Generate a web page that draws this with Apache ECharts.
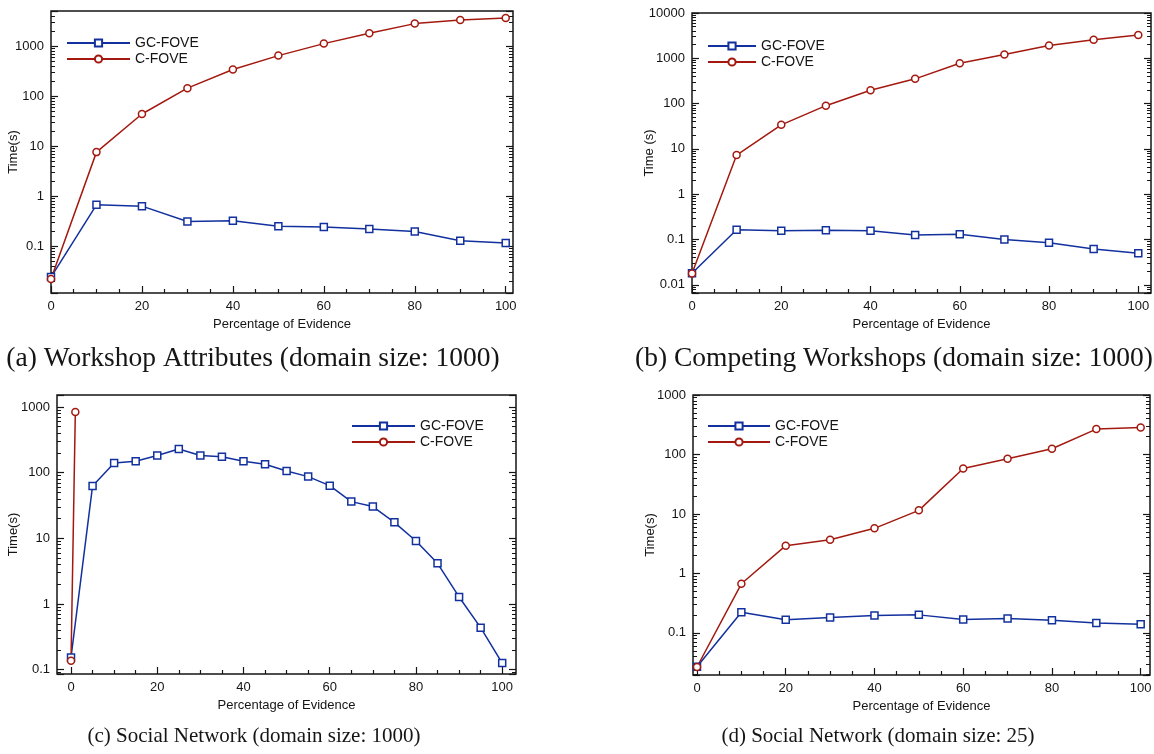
<!DOCTYPE html>
<html>
<head>
<meta charset="utf-8">
<script src="https://cdn.jsdelivr.net/npm/echarts@6/dist/echarts.min.js"></script>
<style>
  html, body { margin: 0; background: #fff; }
  #main { width: 1154px; height: 754px; }
</style>
</head>
<body>
<div id="main"></div>
<script>
// evidence percentages
const xTen = [0, 10, 20, 30, 40, 50, 60, 70, 80, 90, 100]
const xFive = [0, 5, 10, 15, 20, 25, 30, 35, 40, 45, 50, 55, 60, 65, 70, 75, 80, 85, 90, 95, 100]
const xCFoveSocial = [0, 1]
const xLabels = [0, 20, 40, 60, 80, 100]
const xMinorTicks = [5, 10, 15, 25, 30, 35, 45, 50, 55, 65, 70, 75, 85, 90, 95]

// (a) Workshop Attributes
const aGC = [0.024, 0.67, 0.63, 0.31, 0.32, 0.25, 0.24, 0.22, 0.196, 0.128, 0.115]
const aC = [0.022, 7.6, 44, 145, 342, 650, 1130, 1820, 2840, 3360, 3680]
// (b) Competing Workshops
const bGC = [0.018, 0.165, 0.157, 0.16, 0.157, 0.126, 0.13, 0.1, 0.085, 0.062, 0.05]
const bC = [0.0178, 7.3, 34, 90, 197, 352, 780, 1215, 1920, 2570, 3260]
// (c) Social Network, domain 1000
const cGC = [0.154, 62.7, 140, 149, 182, 229, 182, 175, 149, 134, 106, 87, 63.4, 36.2, 30.4, 17.5, 9.1, 4.16, 1.28, 0.436, 0.126]
const cC = [0.137, 840]
// (d) Social Network, domain 25
const dGC = [0.027, 0.223, 0.166, 0.181, 0.196, 0.201, 0.168, 0.174, 0.163, 0.147, 0.14]
const dC = [0.0267, 0.67, 2.93, 3.69, 5.73, 11.5, 58, 84.5, 125, 267, 285]

const captions = [
  '(a) Workshop Attributes (domain size: 1000)',
  '(b) Competing Workshops (domain size: 1000)',
  '(c) Social Network (domain size: 1000)',
  '(d) Social Network (domain size: 25)',
]

const BLUE = '#12309e'
const RED = '#a3190f'
const INK = '#151515'
const SANS = 'Liberation Sans'

const panels = [
  { grid: { left: 51, top: 11, width: 462, height: 282 }, xMin: 0, xMax: 101.6, yMin: 0.0115, yMax: 5080,
    yName: 'Time(s)', yGap: 31, legend: { left: 61, top: 31, itemWidth: 63 }, cap: [253, 359, 27.5],
    lines: [['GC-FOVE', xTen, aGC], ['C-FOVE', xTen, aC]] },
  { grid: { left: 692, top: 13, width: 459, height: 280 }, xMin: 0, xMax: 102.85, yMin: 0.0066, yMax: 10000,
    yName: 'Time (s)', yGap: 36, legend: { left: 702, top: 34, itemWidth: 48 }, cap: [894, 359, 27.5],
    lines: [['GC-FOVE', xTen, bGC], ['C-FOVE', xTen, bC]] },
  { grid: { left: 57, top: 395, width: 459, height: 279 }, xMin: -3.25, xMax: 103.2, yMin: 0.086, yMax: 1520,
    yName: 'Time(s)', yGap: 37, legend: { left: 346, top: 414, itemWidth: 63 }, cap: [254, 736, 21],
    lines: [['GC-FOVE', xFive, cGC], ['C-FOVE', xCFoveSocial, cC]] },
  { grid: { left: 693, top: 395, width: 457, height: 280 }, xMin: -0.9, xMax: 102.1, yMin: 0.0196, yMax: 1000,
    yName: 'Time(s)', yGap: 36, legend: { left: 702, top: 414, itemWidth: 62 }, cap: [878, 736, 21],
    lines: [['GC-FOVE', xTen, dGC], ['C-FOVE', xTen, dC]] },
]

// minor log ticks (2..9 per decade), in log10 space
function minorLogTicks(lo, hi) {
  const out = []
  for (let k = Math.floor(Math.log10(lo)); k <= Math.ceil(Math.log10(hi)); k++) {
    for (let m = 2; m <= 9; m++) {
      const v = m * Math.pow(10, k)
      if (v > lo && v < hi) out.push(Math.log10(v))
    }
  }
  return out
}

function decadeLabel(v) {
  const e = Math.log10(v)
  return Math.abs(e - Math.round(e)) < 1e-6 ? String(+Math.pow(10, Math.round(e)).toPrecision(3)) : ''
}

const labelFont = { fontFamily: SANS, fontSize: 13, color: INK }

const option = {
  animation: false,
  backgroundColor: '#fff',
  grid: [], xAxis: [], yAxis: [], series: [], legend: [], graphic: [],
}

panels.forEach((p, i) => {
  option.grid.push({ ...p.grid, show: true, borderColor: INK, borderWidth: 1.5,
    backgroundColor: 'transparent', outerBoundsMode: 'none' })

  const xi = option.xAxis.length
  option.xAxis.push({
    gridIndex: i, type: 'value', position: 'bottom', min: p.xMin, max: p.xMax,
    name: 'Percentage of Evidence', nameLocation: 'middle', nameGap: 25, nameMoveOverlap: false,
    nameTextStyle: { ...labelFont },
    axisLine: { show: false, onZero: false }, splitLine: { show: false },
    axisTick: { inside: true, length: 7, customValues: xLabels, lineStyle: { color: INK, width: 1.2 } },
    axisLabel: { customValues: xLabels, margin: 7, ...labelFont },
  })
  option.xAxis.push({
    gridIndex: i, type: 'value', position: 'bottom', min: p.xMin, max: p.xMax,
    axisLine: { show: false, onZero: false }, splitLine: { show: false }, axisLabel: { show: false },
    axisTick: { inside: true, length: 4, customValues: xMinorTicks, lineStyle: { color: INK, width: 1.2 } },
  })

  const yi = option.yAxis.length
  ;['left', 'right'].forEach(pos => {
    option.yAxis.push({
      gridIndex: i, type: 'log', logBase: 10, position: pos, min: p.yMin, max: p.yMax,
      name: pos === 'left' ? p.yName : '', nameLocation: 'middle', nameGap: p.yGap, nameMoveOverlap: false,
      nameTextStyle: { ...labelFont },
      axisLine: { show: false, onZero: false }, splitLine: { show: false },
      axisTick: { inside: true, length: 7, lineStyle: { color: INK, width: 1.2 } },
      axisLabel: { show: pos === 'left', formatter: decadeLabel, margin: 7, ...labelFont },
    })
  })
  const minors = minorLogTicks(p.yMin, p.yMax)
  ;['left', 'right'].forEach(pos => {
    option.yAxis.push({
      gridIndex: i, type: 'value', position: pos,
      min: Math.log10(p.yMin), max: Math.log10(p.yMax),
      axisLine: { show: false, onZero: false }, splitLine: { show: false }, axisLabel: { show: false },
      axisTick: { inside: true, length: 4, customValues: minors, lineStyle: { color: INK, width: 1 } },
    })
  })

  p.lines.forEach(([name, xs, ys]) => {
    const col = name === 'GC-FOVE' ? BLUE : RED
    option.series.push({
      type: 'line', name, xAxisIndex: xi, yAxisIndex: yi,
      data: xs.map((x, k) => [x, ys[k]]),
      symbol: name === 'GC-FOVE' ? 'rect' : 'circle',
      symbolSize: 7, showAllSymbol: true,
      lineStyle: { color: col, width: 1.5 },
      itemStyle: { color: '#fff', borderColor: col, borderWidth: 1.5 },
      emphasis: { disabled: true },
    })
  })

  option.legend.push({
    left: p.legend.left, top: p.legend.top, orient: 'vertical',
    itemWidth: p.legend.itemWidth, itemHeight: 9, itemGap: 2,
    selectedMode: false,
    data: ['GC-FOVE', 'C-FOVE'],
    textStyle: { fontFamily: SANS, fontSize: 14, color: INK },
  })

  option.graphic.push({
    type: 'text', x: p.cap[0], y: p.cap[1],
    style: { text: captions[i], align: 'center', verticalAlign: 'middle',
      font: p.cap[2] + 'px "Liberation Serif"', fill: INK },
  })
})

const chart = echarts.init(document.getElementById('main'))
chart.setOption(option)
</script>
</body>
</html>
